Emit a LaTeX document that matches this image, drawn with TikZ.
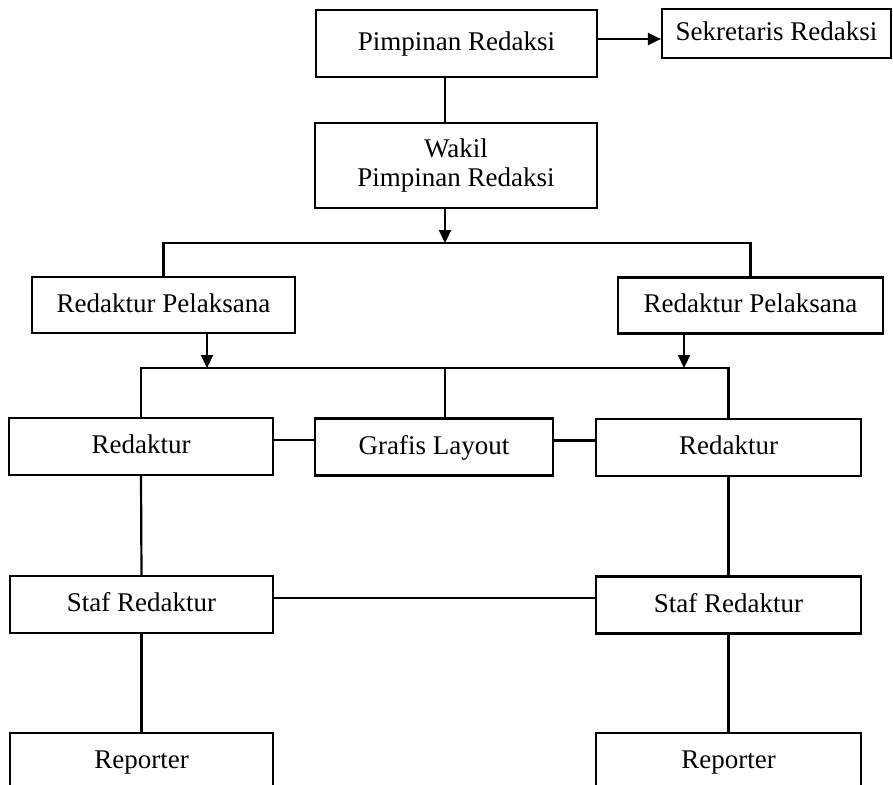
\documentclass[tikz,border=0pt]{standalone}
\usepackage{fontspec}
\setmainfont{Liberation Serif}
\usepackage{tikz}
\usetikzlibrary{arrows.meta,calc}
\tikzset{
  font=\fontsize{27}{29}\selectfont,
  >={Triangle[length=13pt,width=12pt]},
  box/.style={draw=black, line width=2.2pt, inner sep=0pt, align=center, minimum height=57pt,
    text height=19pt, text depth=5pt},
  link/.style={draw=black, line width=2.2pt},
}
\begin{document}
\begin{tikzpicture}[x=1pt,y=-1pt]
\useasboundingbox (0,0) rectangle (893,784);
\clip (0,0) rectangle (893,784);
\def\mx{445}
\def\up{6.5pt}
% top
\node[box, minimum width=281pt, minimum height=67pt] (pimp) at (456.5,43.5) {Pimpinan Redaksi};
\node[box, minimum width=229pt, minimum height=49pt] (sek) at (776.5,33.5) {Sekretaris Redaksi};
\node[box, minimum width=282pt, minimum height=85pt, text height=, text depth=] (wakil) at (456,165.5) {Wakil\\Pimpinan Redaksi};
% redaktur pelaksana
\node[box, minimum width=263pt, minimum height=56pt] (rpl) at (163.5,305) {Redaktur Pelaksana};
\node[box, minimum width=265pt, minimum height=56pt] (rpr) at (750.5,305.5) {Redaktur Pelaksana};
% redaktur + grafis
\node[box, minimum width=264pt] (redl) at (141,446.5) {Redaktur};
\node[box, minimum width=238pt] (graf) at (434,447) {Grafis Layout};
\node[box, minimum width=265pt] (redr) at (728.5,447.5) {Redaktur};
% staf
\node[box, minimum width=263pt] (stafl) at (141.5,604.5) {Staf Redaktur};
\node[box, minimum width=265pt] (stafr) at (728.5,605) {Staf Redaktur};
% reporter
\node[box, minimum width=263pt] (repl) at (141.5,761.5) {Reporter};
\node[box, minimum width=265pt] (repr) at (728.5,761.5) {Reporter};
% joints
\coordinate (mid) at (\mx,0);
\coordinate (bar1) at (\mx,243);
\coordinate (al) at (207,368);
\coordinate (ar) at (684,368);
% connectors
\draw[link, ->] ([yshift=4.5pt]pimp.east) -- ([yshift=4.5pt]pimp.east -| sek.west);
\draw[link] (pimp.south -| mid) -- (wakil.north -| mid);
\draw[link, ->] (wakil.south -| mid) -- (bar1);
\draw[link] (rpl.north) |- (bar1) -| (rpr.north);
\draw[link, ->] (rpl.south -| al) -- (al);
\draw[link, ->] (rpr.south -| ar) -- (ar);
\draw[link] (redl.north) |- (al) -- (ar) -| (redr.north);
\draw[link] (graf.north -| mid) -- (mid |- al);
\draw[link] ([yshift=\up]redl.east) -- ([yshift=\up]redl.east -| graf.west);
\draw[link] ([yshift=\up]graf.east) -- ([yshift=\up]graf.east -| redr.west);
\draw[link] (redl.south) -- (stafl.north);
\draw[link] (redr.south) -- (stafr.north);
\draw[link] ([yshift=\up]stafl.east) -- ([yshift=\up]stafl.east -| stafr.west);
\draw[link] (stafl.south) -- (repl.north);
\draw[link] (stafr.south) -- (repr.north);
\end{tikzpicture}
\end{document}
